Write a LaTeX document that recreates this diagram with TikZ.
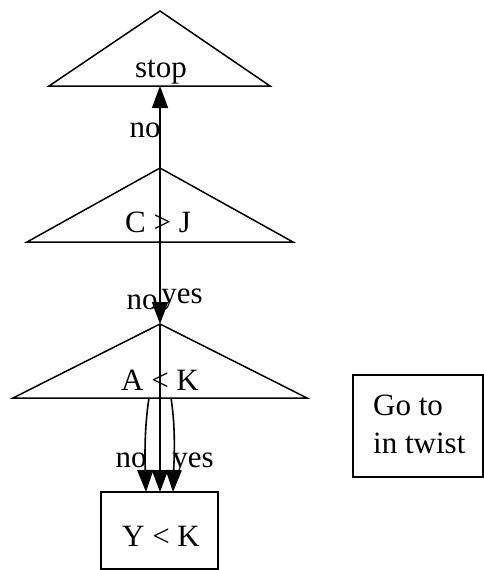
\documentclass[tikz,border=0pt]{standalone}
\usepackage{fontspec}
\setmainfont{Liberation Serif}
\usetikzlibrary{arrows.meta}
\begin{document}
\begin{tikzpicture}[x=1pt,y=-1pt,
  shapeline/.style={draw=black,line width=1.5pt,line join=miter},
  conn/.style={draw=black,line width=1.6pt,-{Triangle[length=22pt,width=16pt]}},
  lbl/.style={anchor=base,inner sep=0pt,font=\fontsize{31}{37}\selectfont},
  txt/.style={anchor=base,inner sep=0pt,font=\fontsize{31}{37}\selectfont}]
\useasboundingbox[fill=white] (0,0) rectangle (484,570);
% triangles
\coordinate (stopapex) at (160,11);
\coordinate (stopbase) at (160,86);
\draw[shapeline] (stopapex) -- (270,86) -- (49,86) -- cycle;
\coordinate (cjapex) at (160,168);
\coordinate (cjbase) at (160,242);
\draw[shapeline] (cjapex) -- (293,242) -- (27,242) -- cycle;
\coordinate (akapex) at (160,324);
\coordinate (akbase) at (160,398);
\coordinate (akleft) at (149,398);
\coordinate (akright) at (171,398);
\draw[shapeline] (akapex) -- (307,398) -- (13,398) -- cycle;
% boxes
\node[shapeline,minimum width=117pt,minimum height=77pt,inner sep=0pt] (yk) at (159.5,530.5) {};
\node[shapeline,minimum width=130pt,minimum height=102pt,inner sep=0pt] (goto) at (418,426) {};
% texts
\node[txt] (tstop) at (161,77) {stop};
\node[txt] (tcj) at (158,232) {C > J};
\node[txt] (tak) at (160,390) {A < K};
\node[txt] (tyk) at (161,546) {Y < K};
\node[txt,anchor=base west] (tgo1) at (373,415) {Go to};
\node[txt,anchor=base west] (tgo2) at (373,453) {in twist};
% connectors
\coordinate (ykl) at (146,492);
\coordinate (ykm) at (160,492);
\coordinate (ykr) at (173,492);
\draw[conn] (cjbase) -- (stopbase);
\draw[conn] (cjapex) -- (akapex);
\draw[conn] (akapex) -- (ykm);
\draw[conn] (akleft) .. controls (144,430) and (145,460) .. (ykl);
\draw[conn] (akright) .. controls (176,430) and (174,460) .. (ykr);
% labels
\node[lbl] (l1) at (145,137) {no};
\node[lbl] (l2) at (142,309) {no};
\node[lbl] (l3) at (182,303) {yes};
\node[lbl] (l4) at (131,467) {no};
\node[lbl] (l5) at (193,467) {yes};
\end{tikzpicture}
\end{document}
